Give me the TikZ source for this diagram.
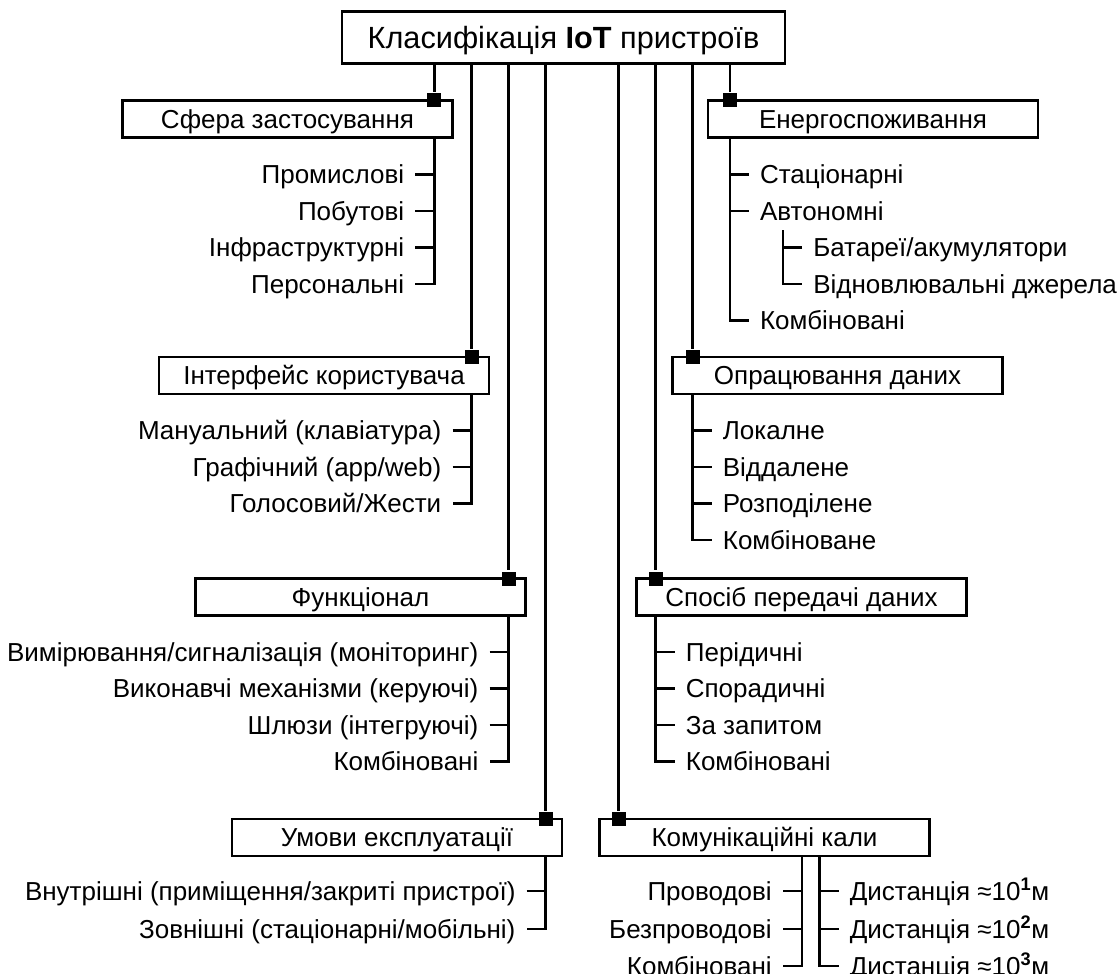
\documentclass[tikz,border=0pt]{standalone}
\usepackage{fontspec}
\setmainfont{Liberation Sans}
\usetikzlibrary{positioning}

\begin{document}
\begin{tikzpicture}[
        x=0.75pt, y=-0.75pt,
        line width=1.9pt,
        title/.style={draw, rectangle, minimum width=332pt, minimum height=39pt, inner sep=0pt, text height=16.5pt, text depth=0pt, font=\fontsize{23}{27}\selectfont},
        catbox/.style={draw, rectangle, minimum width=247.5pt, minimum height=27.75pt, inner sep=0pt, text height=14pt, text depth=0pt, font=\fontsize{19.5}{23}\selectfont},
        joint/.style={rectangle, fill=black, minimum size=10.5pt, inner sep=0pt},
        litem/.style={anchor=east, inner xsep=7.5pt, inner ysep=0pt, text height=14pt, text depth=0pt, font=\fontsize{19.5}{23}\selectfont},
        ritem/.style={litem, anchor=west}
    ]
        \useasboundingbox (0,0) rectangle (1118,974);

        % Nodes
        \node[title] (root) at (563.5,37.5) {Класифікація \textbf{IoT} пристроїв};

        \node[catbox] (sfera) at (287.5,119) {Сфера застосування};
        \node[catbox] (energo) at (873,119) {Енергоспоживання};
        \node[catbox] (interf) at (324,375.5) {Інтерфейс користувача};
        \node[catbox] (opracj) at (837.5,375.5) {Опрацювання даних};
        \node[catbox] (funk) at (360.5,597) {Функціонал};
        \node[catbox] (sposib) at (801.5,597) {Спосіб передачі даних};
        \node[catbox] (umovy) at (397,837.5) {Умови експлуатації};
        \node[catbox] (komun) at (764.5,837.5) {Комунікаційні кали};

        \node[joint] (j-sfera) at (434.4,100.5) {};
        \node[joint] (j-interf) at (471.5,357) {};
        \node[joint] (j-funk) at (508.6,578.5) {};
        \node[joint] (j-umovy) at (545.7,819) {};
        \node[joint] (j-komun) at (618.5,819) {};
        \node[joint] (j-sposib) at (655.6,578.5) {};
        \node[joint] (j-opracj) at (692.6,357) {};
        \node[joint] (j-energo) at (729.8,100.5) {};

        \node[litem] (sf1) at (415.4,174.5) {Промислові};
        \node[litem] (sf2) at (415.4,211) {Побутові};
        \node[litem] (sf3) at (415.4,247.5) {Інфраструктурні};
        \node[litem] (sf4) at (415.4,284) {Персональні};

        \node[ritem] (en1) at (748.8,174.5) {Стаціонарні};
        \node[ritem] (en2) at (748.8,211) {Автономні};
        \node[ritem] (en3) at (802,247.5) {Батареї/акумулятори};
        \node[ritem] (en4) at (802,284) {Відновлювальні джерела};
        \node[ritem] (en5) at (748.8,320.5) {Комбіновані};
        \coordinate (en-sub) at (783,230);

        \node[litem] (in1) at (452.5,430.5) {Мануальний (клавіатура)};
        \node[litem] (in2) at (452.5,467) {Графічний (app/web)};
        \node[litem] (in3) at (452.5,503.5) {Голосовий/Жести};

        \node[ritem] (op1) at (711.6,430.5) {Локалне};
        \node[ritem] (op2) at (711.6,467) {Віддалене};
        \node[ritem] (op3) at (711.6,503.5) {Розподілене};
        \node[ritem] (op4) at (711.6,540) {Комбіноване};

        \node[litem] (fu1) at (489.6,652) {Вимірювання/сигналізація (моніторинг)};
        \node[litem] (fu2) at (489.6,688.5) {Виконавчі механізми (керуючі)};
        \node[litem] (fu3) at (489.6,725) {Шлюзи (інтегруючі)};
        \node[litem] (fu4) at (489.6,761.5) {Комбіновані};

        \node[ritem] (sp1) at (674.6,652) {Перідичні};
        \node[ritem] (sp2) at (674.6,688.5) {Спорадичні};
        \node[ritem] (sp3) at (674.6,725) {За запитом};
        \node[ritem] (sp4) at (674.6,761.5) {Комбіновані};

        \node[litem] (um1) at (526.7,891) {Внутрішні (приміщення/закриті пристрої)};
        \node[litem] (um2) at (526.7,929) {Зовнішні (стаціонарні/мобільні)};

        \coordinate (ko-left) at (802,856);
        \coordinate (ko-right) at (819.5,856);
        \node[litem] (kl1) at (783,891) {Проводові};
        \node[litem] (kl2) at (783,929) {Безпроводові};
        \node[litem] (kl3) at (783,966) {Комбіновані};
        \node[ritem] (kr1) at (838.5,891) {Дистанція ≈10\textsuperscript{\textbf{1}}м};
        \node[ritem] (kr2) at (838.5,929) {Дистанція ≈10\textsuperscript{\textbf{2}}м};
        \node[ritem] (kr3) at (838.5,966) {Дистанція ≈10\textsuperscript{\textbf{3}}м};

        % Lines
        \draw (root.south -| j-sfera) -- (j-sfera);
        \draw (root.south -| j-interf) -- (j-interf);
        \draw (root.south -| j-funk) -- (j-funk);
        \draw (root.south -| j-umovy) -- (j-umovy);
        \draw (root.south -| j-komun) -- (j-komun);
        \draw (root.south -| j-sposib) -- (j-sposib);
        \draw (root.south -| j-opracj) -- (j-opracj);
        \draw (root.south -| j-energo) -- (j-energo);

        \draw (sfera.south -| j-sfera) |- (sf4.east);
        \draw (sf1.east) -- (sf1.east -| j-sfera);
        \draw (sf2.east) -- (sf2.east -| j-sfera);
        \draw (sf3.east) -- (sf3.east -| j-sfera);

        \draw (energo.south -| j-energo) |- (en5.west);
        \draw (en1.west) -- (en1.west -| j-energo);
        \draw (en2.west) -- (en2.west -| j-energo);
        \draw (en-sub) |- (en4.west);
        \draw (en3.west) -- (en3.west -| en-sub);

        \draw (interf.south -| j-interf) |- (in3.east);
        \draw (in1.east) -- (in1.east -| j-interf);
        \draw (in2.east) -- (in2.east -| j-interf);

        \draw (opracj.south -| j-opracj) |- (op4.west);
        \draw (op1.west) -- (op1.west -| j-opracj);
        \draw (op2.west) -- (op2.west -| j-opracj);
        \draw (op3.west) -- (op3.west -| j-opracj);

        \draw (funk.south -| j-funk) |- (fu4.east);
        \draw (fu1.east) -- (fu1.east -| j-funk);
        \draw (fu2.east) -- (fu2.east -| j-funk);
        \draw (fu3.east) -- (fu3.east -| j-funk);

        \draw (sposib.south -| j-sposib) |- (sp4.west);
        \draw (sp1.west) -- (sp1.west -| j-sposib);
        \draw (sp2.west) -- (sp2.west -| j-sposib);
        \draw (sp3.west) -- (sp3.west -| j-sposib);

        \draw (umovy.south -| j-umovy) |- (um2.east);
        \draw (um1.east) -- (um1.east -| j-umovy);

        \draw (ko-left) |- (kl3.east);
        \draw (kl1.east) -- (kl1.east -| ko-left);
        \draw (kl2.east) -- (kl2.east -| ko-left);
        \draw (ko-right) |- (kr3.west);
        \draw (kr1.west) -- (kr1.west -| ko-right);
        \draw (kr2.west) -- (kr2.west -| ko-right);
    \end{tikzpicture}
\end{document}
